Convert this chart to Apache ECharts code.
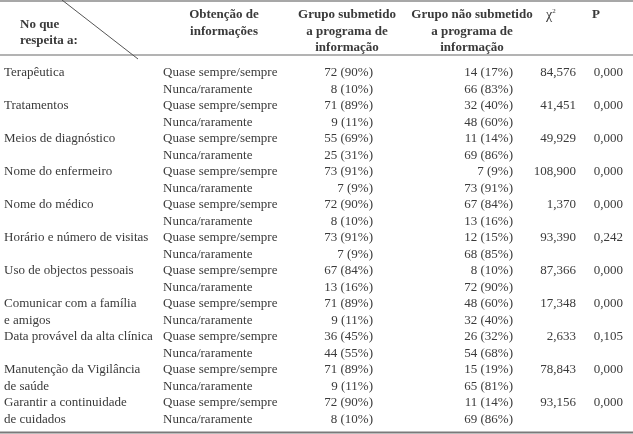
<!DOCTYPE html>
<html>
<head>
<meta charset="utf-8">
<script src="https://cdn.jsdelivr.net/npm/echarts@6/dist/echarts.min.js"></script>
<style>
  html, body { margin: 0; padding: 0; background: #fff; }
  #main { width: 633px; height: 434px; }
</style>
</head>
<body>
<div id="main"></div>
<script>
// items, one per pair of rows (a second line goes on the second row)
var items = [
    ['Terapêutica'],
    ['Tratamentos'],
    ['Meios de diagnóstico'],
    ['Nome do enfermeiro'],
    ['Nome do médico'],
    ['Horário e número de visitas'],
    ['Uso de objectos pessoais'],
    ['Comunicar com a família', 'e amigos'],
    ['Data provável da alta clínica'],
    ['Manutenção da Vigilância', 'de saúde'],
    ['Garantir a continuidade', 'de cuidados']
];
var answers = ['Quase sempre/sempre', 'Nunca/raramente'];

// grupo submetido a programa de informação
var subN   = [72, 8, 71, 9, 55, 25, 73, 7, 72, 8, 73, 7, 67, 13, 71, 9, 36, 44, 71, 9, 72, 8];
var subPct = [90, 10, 89, 11, 69, 31, 91, 9, 90, 10, 91, 9, 84, 16, 89, 11, 45, 55, 89, 11, 90, 10];
// grupo não submetido
var nonN   = [14, 66, 32, 48, 11, 69, 7, 73, 67, 13, 12, 68, 8, 72, 48, 32, 26, 54, 15, 65, 11, 69];
var nonPct = [17, 83, 40, 60, 14, 86, 9, 91, 84, 16, 15, 85, 10, 90, 60, 40, 32, 68, 19, 81, 14, 86];

var chi2 = ['84,576', '41,451', '49,929', '108,900', '1,370', '93,390', '87,366', '17,348', '2,633', '78,843', '93,156'];
var pVal = ['0,000', '0,000', '0,000', '0,000', '0,000', '0,242', '0,000', '0,000', '0,105', '0,000', '0,000'];

var FONT = '"Liberation Serif", "DejaVu Serif", serif';
var TXT = '#3a3a3a';

var rows = [];
for (var i = 0; i < subN.length; i++) rows.push(i);

function txt(x, y, s, align, bold) {
    return {
        type: 'text',
        x: x, y: y,
        style: {
            text: s,
            fill: TXT,
            fontFamily: FONT,
            fontSize: 13,
            fontWeight: bold ? 'bold' : 'normal',
            align: align, textAlign: align,
            verticalAlign: 'middle', textVerticalAlign: 'middle'
        }
    };
}

var head = [
    txt(20, 25, 'No que', 'left', true),
    txt(20, 41, 'respeita a:', 'left', true),
    txt(224, 15, 'Obtenção de', 'center', true),
    txt(224, 32, 'informações', 'center', true),
    txt(347, 15, 'Grupo submetido', 'center', true),
    txt(347, 32, 'a programa de', 'center', true),
    txt(347, 48, 'informação', 'center', true),
    txt(472, 15, 'Grupo não submetido', 'center', true),
    txt(472, 32, 'a programa de', 'center', true),
    txt(472, 48, 'informação', 'center', true),
    {
        type: 'text', x: 546, y: 15,
        style: {
            text: '{a|χ}{b|2}', fill: TXT, fontFamily: FONT, fontSize: 13,
            verticalAlign: 'middle', textVerticalAlign: 'middle',
            rich: {
                a: { fontFamily: FONT, fontSize: 14, fill: TXT },
                b: { fontFamily: FONT, fontSize: 7, fill: TXT, verticalAlign: 'top', padding: [0, 0, 8, 0] }
            }
        }
    },
    txt(592, 15, 'P', 'left', true),
    { type: 'line', shape: { x1: 0, y1: 1, x2: 633, y2: 1 }, style: { stroke: '#8a8a8a', lineWidth: 1.5 } },
    { type: 'line', shape: { x1: 0, y1: 55, x2: 633, y2: 55 }, style: { stroke: '#9a9a9a', lineWidth: 1.5 } },
    { type: 'line', shape: { x1: 62, y1: 0, x2: 138, y2: 59 }, style: { stroke: '#555', lineWidth: 1 } },
    { type: 'line', shape: { x1: 0, y1: 432.5, x2: 633, y2: 432.5 }, style: { stroke: '#7a7a7a', lineWidth: 2 } }
];

var chart = echarts.init(document.getElementById('main'));
chart.setOption({
    animation: false,
    backgroundColor: '#fff',
    grid: { left: 0, right: 0, top: 64.75, bottom: 6.25 },
    xAxis: { type: 'value', min: 0, max: 633, show: false },
    yAxis: { type: 'category', data: rows, inverse: true, show: false },
    graphic: head,
    series: [{
        type: 'custom',
        data: rows.map(function (r) { return [0, r]; }),
        encode: { x: 0, y: 1 },
        renderItem: function (params, api) {
            var r = params.dataIndex;
            var k = Math.floor(r / 2), s = r % 2;
            var y = api.coord([0, r])[1];
            var X = function (v) { return api.coord([v, r])[0]; };
            var kids = [];
            var lbl = items[k][s];
            if (lbl) kids.push(txt(X(4), y, lbl, 'left'));
            kids.push(txt(X(163), y, answers[s], 'left'));
            kids.push(txt(X(373), y, subN[r] + ' (' + subPct[r] + '%)', 'right'));
            kids.push(txt(X(513), y, nonN[r] + ' (' + nonPct[r] + '%)', 'right'));
            if (s === 0) {
                kids.push(txt(X(576), y, chi2[k], 'right'));
                kids.push(txt(X(623), y, pVal[k], 'right'));
            }
            return { type: 'group', children: kids };
        }
    }]
});
</script>
</body>
</html>
